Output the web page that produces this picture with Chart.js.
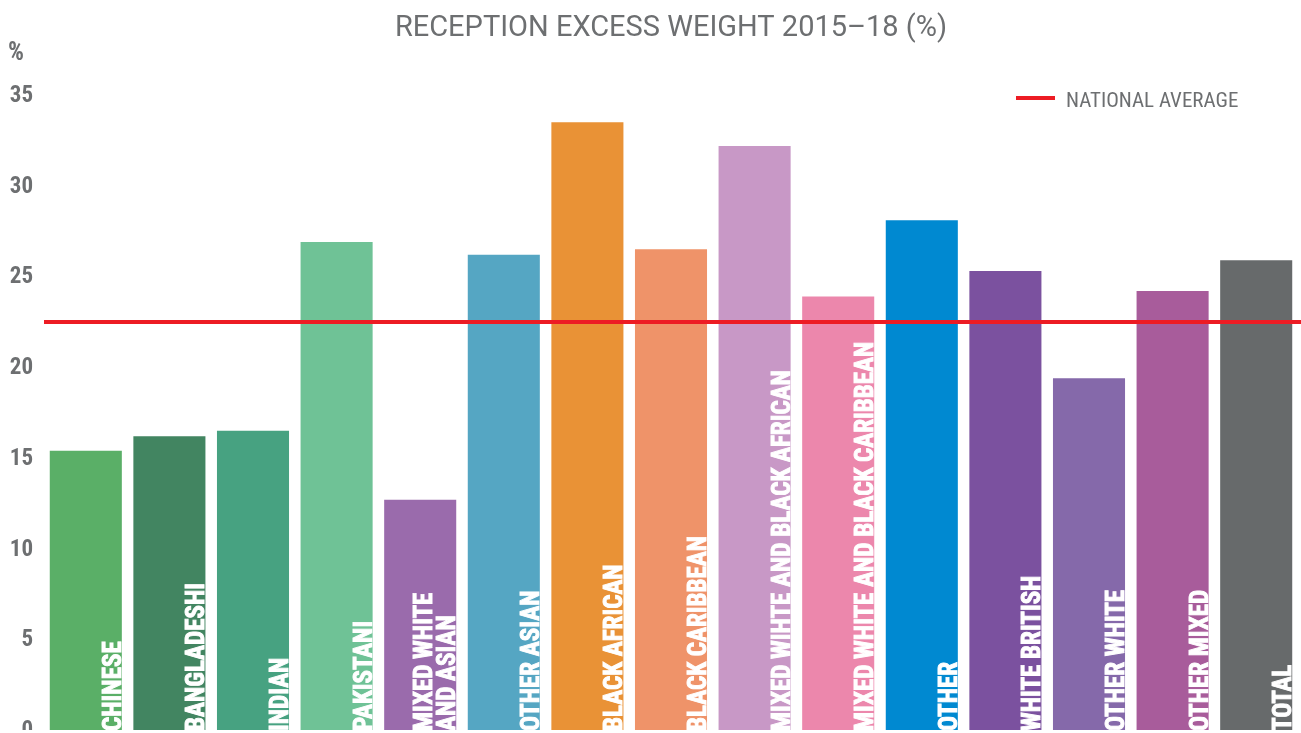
<!DOCTYPE html>
<html>
<head>
<meta charset="utf-8">
<script src="https://cdn.jsdelivr.net/npm/chart.js@4/dist/chart.umd.min.js"></script>
<style>
  html, body { margin: 0; padding: 0; background: #fff; overflow: hidden; }
  #wrap { width: 1301px; height: 760px; }
</style>
</head>
<body>
<div id="wrap"><canvas id="myChart" width="1301" height="760"></canvas></div>
<script>
// data
const categories = [
    ['CHINESE'], ['BANGLADESHI'], ['INDIAN'], ['PAKISTANI'], ['MIXED WHITE', 'AND ASIAN'],
    ['OTHER ASIAN'], ['BLACK AFRICAN'], ['BLACK CARIBBEAN'], ['MIXED WIHTE AND BLACK AFRICAN'],
    ['MIXED WHITE AND BLACK CARIBBEAN'], ['OTHER'], ['WHITE BRITISH'], ['OTHER WHITE'],
    ['OTHER MIXED'], ['TOTAL']
];
const excessWeight = [15.3, 16.1, 16.4, 26.8, 12.6, 26.1, 33.4, 26.4, 32.1, 23.8, 28.0, 25.2, 19.3, 24.1, 25.8];
const nationalAverage = 22.4;
const barColors = [
    '#5aaf67', '#428561', '#47a281', '#6fc296', '#9a6bac', '#55a6c3', '#e99236', '#ef9369',
    '#c898c6', '#ec87ac', '#0089d1', '#7b519f', '#8569aa', '#a85c9b', '#676a6b'
];
const yMax = 35;
const yStep = 5;

const grey = '#6d6f71';
const red = '#ed1c24';
const narrow = '"Roboto Condensed", "Liberation Sans Narrow", "Liberation Sans", sans-serif';

const overlay = {
    id: 'overlay',
    afterDatasetsDraw(chart) {
        const ctx = chart.ctx;
        const area = chart.chartArea;
        const meta = chart.getDatasetMeta(0);
        // labels written up the bars
        meta.data.forEach((bar, i) => {
            const lines = categories[i];
            const left = bar.x - bar.width / 2;
            const right = bar.x + bar.width / 2;
            ctx.save();
            ctx.beginPath();
            ctx.rect(left, bar.y, bar.width, 730 - bar.y);
            ctx.clip();
            ctx.translate(right - 1, 731);
            ctx.rotate(-Math.PI / 2);
            ctx.fillStyle = '#fff';
            ctx.strokeStyle = '#fff';
            ctx.lineWidth = 0.9;
            ctx.font = 'bold 25px ' + narrow;
            ctx.textAlign = 'left';
            ctx.textBaseline = 'alphabetic';
            lines.forEach((t, j) => {
                const yy = -(lines.length - 1 - j) * 23;
                ctx.fillText(t, 0, yy);
                ctx.strokeText(t, 0, yy);
            });
            ctx.restore();
        });

        // national average line
        const y = chart.scales.y.getPixelForValue(nationalAverage);
        ctx.save();
        ctx.strokeStyle = red;
        ctx.lineWidth = 4;
        ctx.beginPath();
        ctx.moveTo(area.left, y);
        ctx.lineTo(chart.width, y);
        ctx.stroke();

        // legend
        ctx.beginPath();
        ctx.moveTo(1016, 98);
        ctx.lineTo(1055, 98);
        ctx.stroke();
        ctx.fillStyle = grey;
        ctx.font = '21px ' + narrow;
        ctx.textBaseline = 'alphabetic';
        ctx.fillText('NATIONAL AVERAGE', 1066, 107);

        // unit label
        ctx.font = 'bold 25px ' + narrow;
        ctx.fillText('%', 8, 60);

        // the picture is cut just under the baseline
        ctx.fillStyle = '#fff';
        ctx.fillRect(0, 730, chart.width, chart.height - 730);
        ctx.restore();
    }
};

const ctx = document.getElementById('myChart').getContext('2d');
const myChart = new Chart(ctx, {
    type: 'bar',
    data: {
        labels: categories,
        datasets: [{
            label: 'Reception excess weight',
            data: excessWeight,
            backgroundColor: barColors,
            barPercentage: 0.862,
            categoryPercentage: 1,
            base: -0.2,
            clip: false
        }]
    },
    options: {
        responsive: false,
        animation: false,
        layout: {
            padding: { left: 0, right: 3, top: 0, bottom: 31.7 }
        },
        scales: {
            x: {
                display: false
            },
            y: {
                min: 0,
                max: yMax,
                grid: { display: false, drawTicks: false },
                border: { display: false },
                ticks: {
                    stepSize: yStep,
                    padding: 11,
                    labelOffset: 3,
                    color: grey,
                    font: { family: narrow, size: 23, weight: 'bold' }
                },
                afterFit(scale) {
                    scale.width = 44;
                }
            }
        },
        plugins: {
            legend: false,
            tooltip: { enabled: false },
            title: {
                display: true,
                text: 'RECEPTION EXCESS WEIGHT 2015–18 (%)',
                fullSize: false,
                color: grey,
                font: { family: 'Roboto, sans-serif', size: 29, weight: 'normal', lineHeight: 1.2 },
                padding: { top: 11, bottom: 47.5 }
            }
        }
    },
    plugins: [overlay]
});
</script>
</body>
</html>
